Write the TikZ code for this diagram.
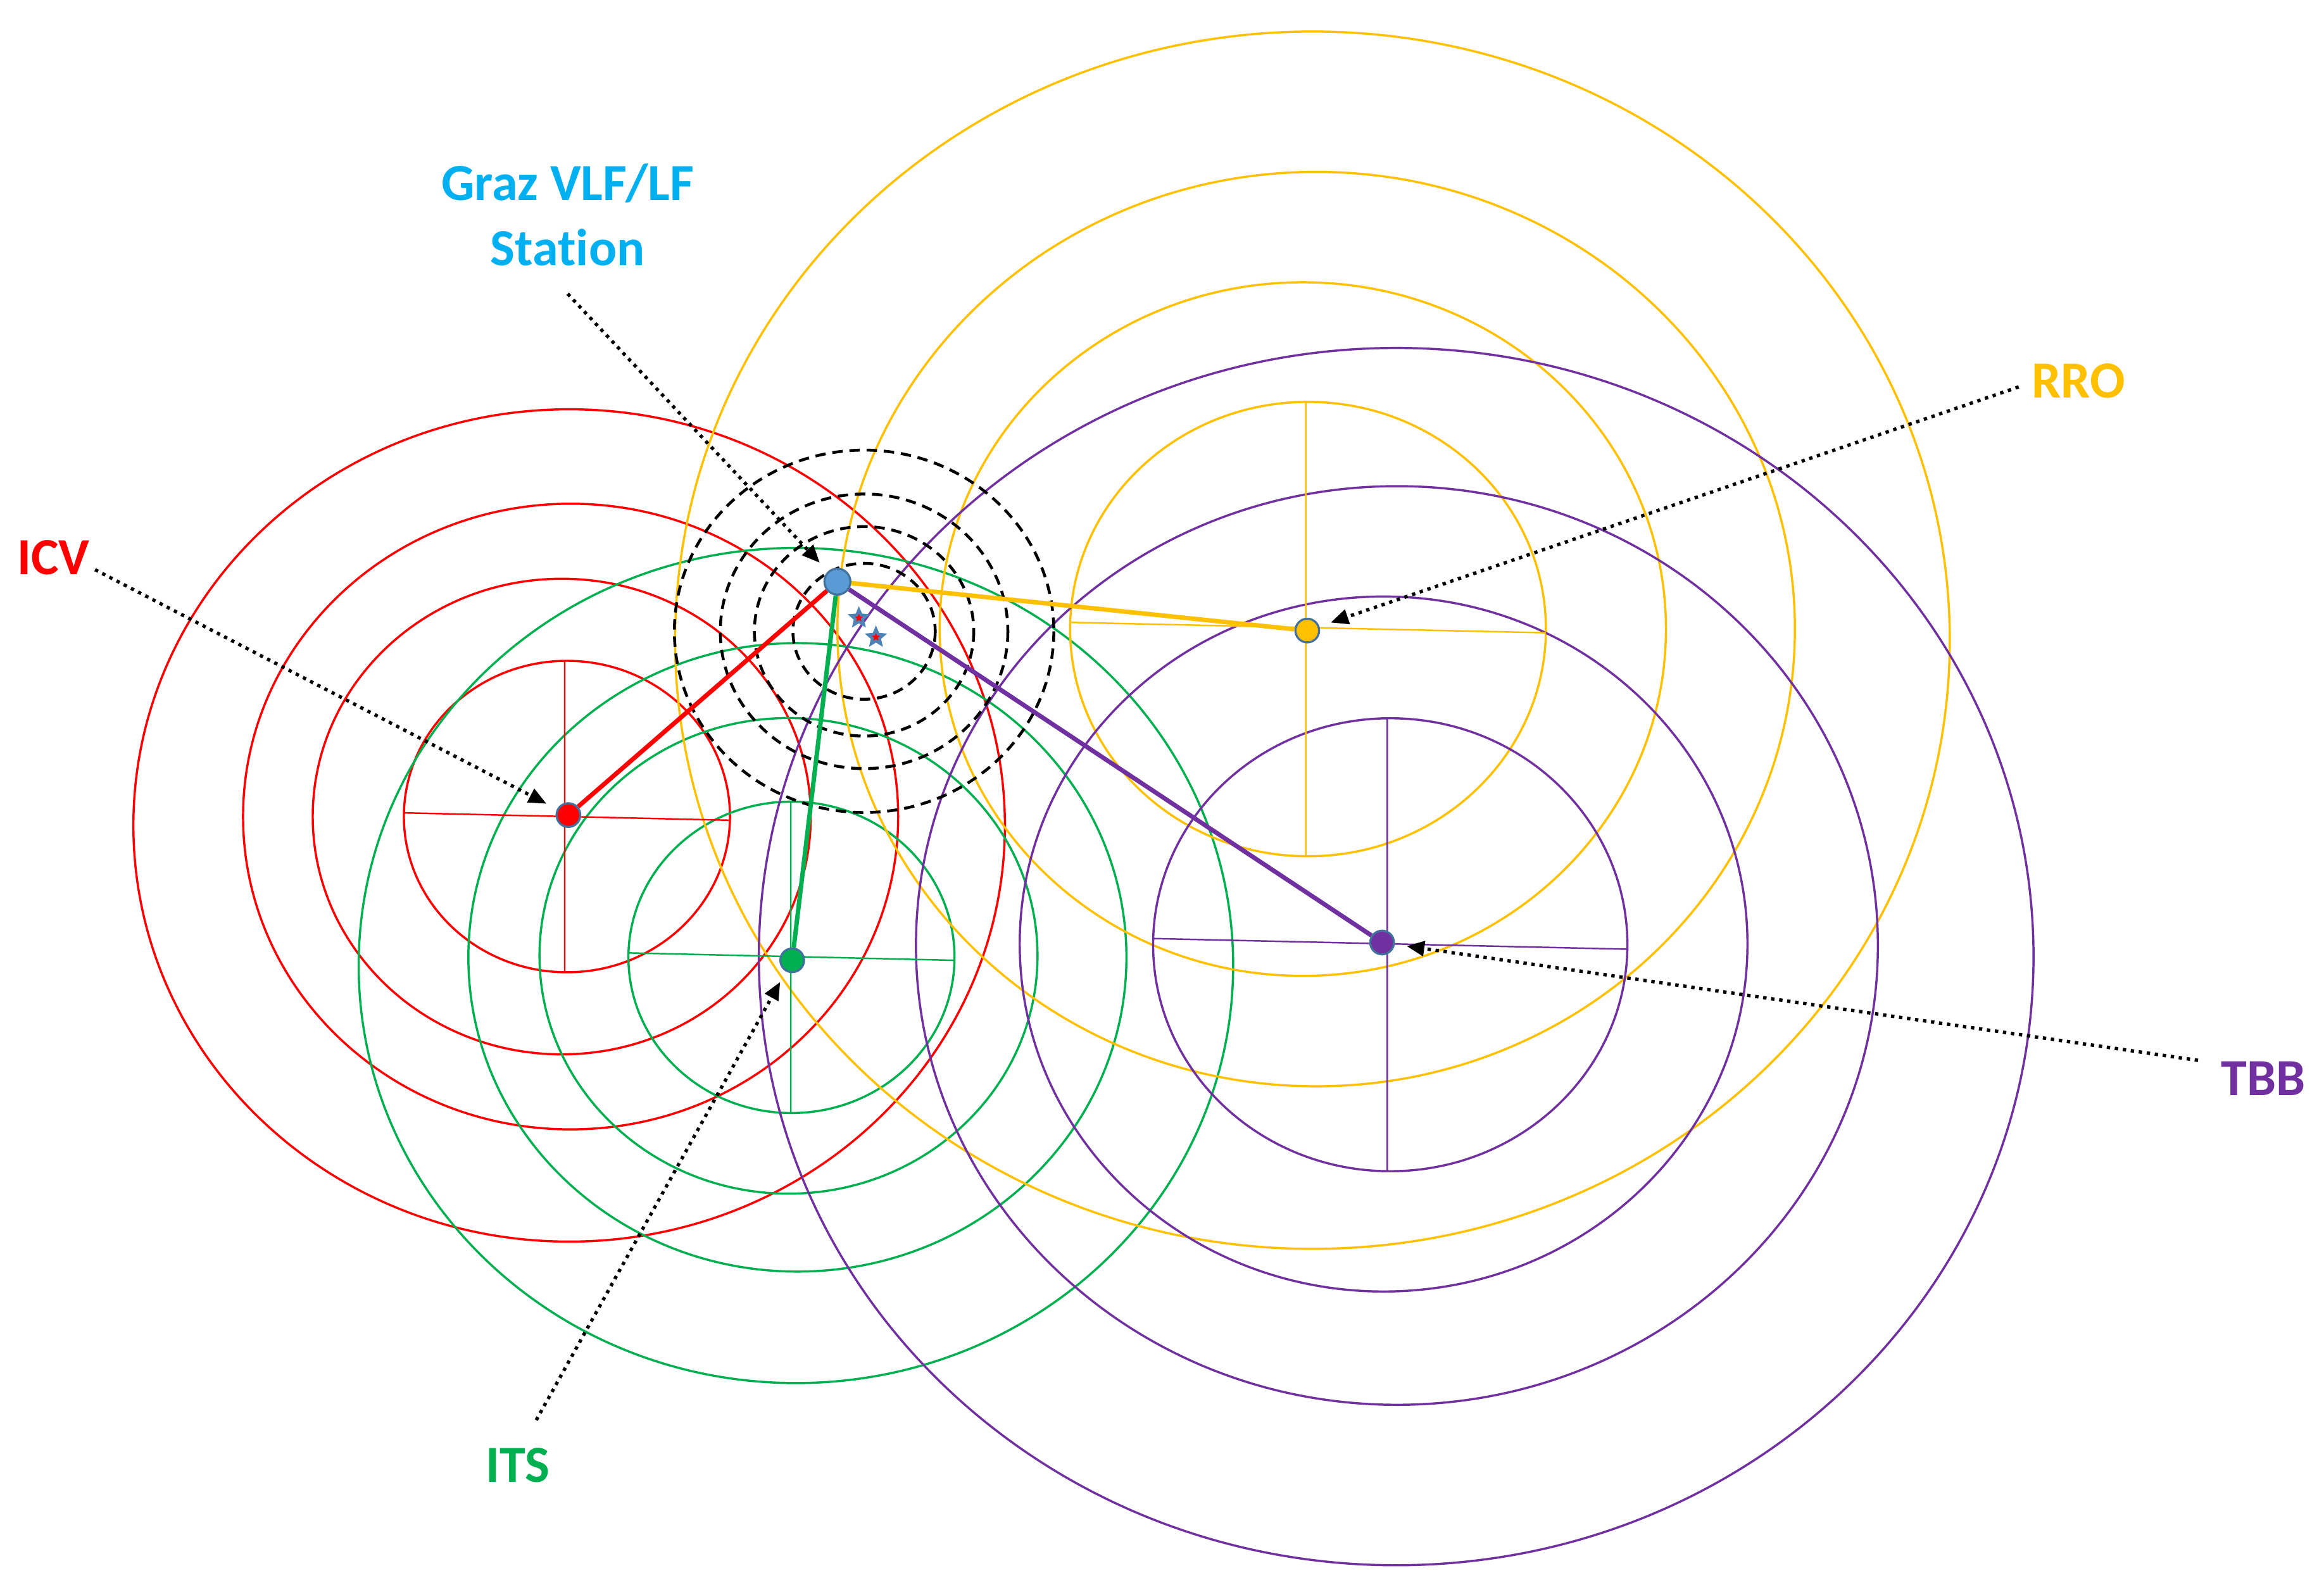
\documentclass[tikz,border=0pt]{standalone}
\usepackage{fontspec}
\setmainfont{Carlito}[Ligatures=NoCommon]
\usetikzlibrary{arrows.meta,shapes.geometric}
\definecolor{icvred}{RGB}{255,0,0}
\definecolor{itsgreen}{RGB}{0,176,80}
\definecolor{rroyellow}{RGB}{255,192,0}
\definecolor{tbbpurple}{RGB}{112,48,160}
\definecolor{grazcyan}{RGB}{0,176,240}
\definecolor{dotblue}{RGB}{91,155,213}
\definecolor{rimblue}{RGB}{65,113,156}

\begin{document}
\begin{tikzpicture}[x=0.1mm,y=-0.1mm,
        ring/.style={line width=0.42pt},
        hair/.style={line width=0.3pt},
        link/.style={line width=0.85pt},
        zone/.style={line width=0.55pt, dash pattern=on 2pt off 1.3pt},
        pointer/.style={line width=0.65pt, dash pattern=on 0.65pt off 0.9pt,
            shorten >=0.8mm, -{Triangle[length=1.2mm,width=1mm]}},
        lbl/.style={font=\fontsize{10}{12.5}\selectfont\bfseries, inner sep=0pt, align=center},
        site/.style={circle, draw=rimblue, line width=0.4pt, inner sep=0pt, minimum size=1.6mm},
        spot/.style={star, star points=5, star point ratio=2.2, fill=icvred,
            draw=dotblue!85!black, line width=0.55pt, inner sep=0pt, minimum size=1.1mm}]
        \useasboundingbox (0,0) rectangle (1568,1074);

        % rings round each transmitter
        \foreach \cx/\cy/\r in {382.5/551/110, 379/551/168, 385/551/221, 384/557/294} {
                \draw[ring, icvred] (\cx,\cy) ellipse ({\r} and {\r/1.047});
        }
        \foreach \cx/\cy/\r in {534/646/110, 532/645/168, 538/646/222, 537/651.5/295} {
                \draw[ring, itsgreen] (\cx,\cy) ellipse ({\r} and {\r/1.047});
        }
        \foreach \cx/\cy/\r in {882.5/424.5/160.5, 879/424.5/245, 888/424.5/323, 885.5/432/430} {
                \draw[ring, rroyellow] (\cx,\cy) ellipse ({\r} and {\r/1.047});
        }
        \foreach \cx/\cy/\r in {938/637.5/160, 933.5/637/245.5, 942.5/638/324.5, 942/645.5/430} {
                \draw[ring, tbbpurple] (\cx,\cy) ellipse ({\r} and {\r/1.047});
        }

        % cross lines
        \draw[hair, icvred] (272.5,548.5) -- (492.5,553.5) (381,446.5) -- (381,656);
        \draw[hair, itsgreen] (424,643) -- (644,648) (533.5,541) -- (533.5,751);
        \draw[hair, rroyellow] (722.5,420) -- (1043,427) (881,271.5) -- (881,577.5);
        \draw[hair, tbbpurple] (777.5,633.3) -- (1098,640.5) (936,484) -- (936,791);

        % rings round the receiver
        \foreach \r in {48,74,97,128} {
                \draw[zone] (583,426) ellipse ({\r} and {\r/1.047});
        }

        % sites
        \node[site, fill=icvred] (icvdot) at (383.5,550) {};
        \node[site, fill=itsgreen] (itsdot) at (534.5,648) {};
        \node[site, fill=rroyellow] (rrodot) at (882,425.5) {};
        \node[site, fill=tbbpurple] (tbbdot) at (932.5,636) {};
        \node[site, fill=dotblue, minimum size=1.75mm] (grazdot) at (565,392.5) {};
        \node[spot] (spota) at (579.5,417) {};
        \node[spot] (spotb) at (591,430) {};

        \draw[link, icvred] (grazdot) -- (icvdot);
        \draw[link, itsgreen] (grazdot) -- (itsdot);
        \draw[link, rroyellow] (grazdot) -- (rrodot);
        \draw[link, tbbpurple] (grazdot) -- (tbbdot);

        % labels
        \node[lbl, grazcyan, anchor=north] (graz) at (383,110) {Graz VLF/LF\\Station};
        \node[lbl, icvred, anchor=base west] (icv) at (11,387.5) {ICV};
        \node[lbl, rroyellow, anchor=base west] (rro) at (1370,268.5) {RRO};
        \node[lbl, tbbpurple, anchor=base west] (tbb) at (1498,739) {TBB};
        \node[lbl, itsgreen, anchor=base west] (its) at (327,1000) {ITS};

        \draw[pointer] ([shift={(0,18)}]graz.south) -- (grazdot);
        \draw[pointer] ([shift={(3,-4)}]icv.south east) -- (icvdot);
        \draw[pointer] ([shift={(-8,4)}]rro.west) -- (rrodot);
        \draw[pointer] ([shift={(-15,0)}]tbb.north west) -- (tbbdot);
        \draw[pointer] ([shift={(12.5,-18)}]its.north) -- (itsdot);
\end{tikzpicture}
\end{document}
